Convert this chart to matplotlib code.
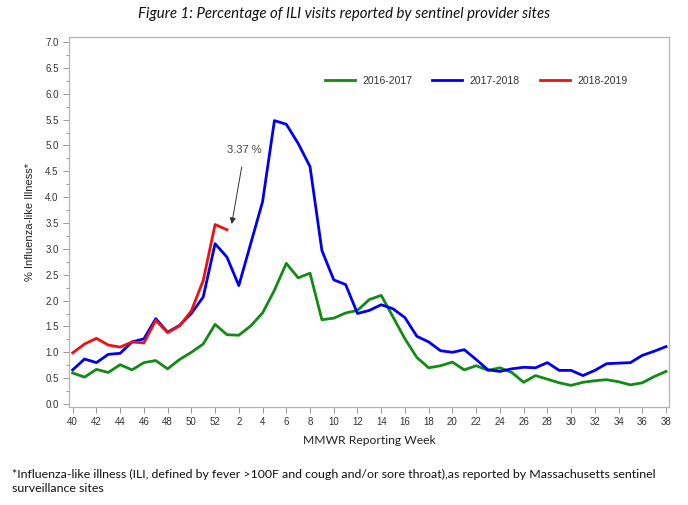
import matplotlib
matplotlib.use("Agg")
import matplotlib.pyplot as plt
import numpy as np

# MMWR weeks 40..52 then 1..38
weeks = list(range(40, 53)) + list(range(1, 39))
tick_labels = [str(w) for w in weeks]

ili_2016 = [0.60, 0.52, 0.67, 0.61, 0.76, 0.66, 0.80, 0.84, 0.68, 0.86,
            1.00, 1.16, 1.54, 1.34, 1.33, 1.51, 1.76, 2.20, 2.72, 2.44,
            2.53, 1.63, 1.66, 1.76, 1.81, 2.02, 2.10, 1.68, 1.26, 0.90,
            0.70, 0.74, 0.81, 0.66, 0.74, 0.65, 0.70, 0.61, 0.42, 0.55,
            0.48, 0.41, 0.36, 0.42, 0.45, 0.47, 0.43, 0.37, 0.41, 0.53,
            0.63]
ili_2017 = [0.66, 0.87, 0.80, 0.96, 0.98, 1.20, 1.26, 1.65, 1.39, 1.52,
            1.75, 2.07, 3.10, 2.84, 2.29, 3.10, 3.91, 5.48, 5.41, 5.04,
            4.59, 2.97, 2.40, 2.31, 1.75, 1.81, 1.92, 1.84, 1.67, 1.31,
            1.20, 1.03, 1.00, 1.05, 0.86, 0.66, 0.63, 0.68, 0.71, 0.70,
            0.80, 0.65, 0.65, 0.55, 0.65, 0.78, 0.79, 0.80, 0.94, 1.02,
            1.11]
ili_2018 = [0.99, 1.16, 1.27, 1.14, 1.10, 1.20, 1.18, 1.62, 1.38, 1.51,
            1.80, 2.39, 3.47, 3.37]

series = [("2016-2017", ili_2016, "#138a13"),
          ("2017-2018", ili_2017, "#0000f0"),
          ("2018-2019", ili_2018, "#f01010")]

W, H = 688, 505
fig = plt.figure(figsize=(W / 100, H / 100), dpi=100)
ax = fig.add_axes([69 / W, 1 - 407 / H, 600 / W, 370 / H])

for name, vals, col in series:
    ax.plot(np.arange(len(vals)), vals, color=col, lw=2.0, label=name,
            solid_joinstyle="round")

ax.set_xlim(-0.31, 50.25)
ax.set_ylim(-0.058, 7.097)
ax.set_xticks(np.arange(0, len(weeks), 2))
ax.set_xticklabels(tick_labels[::2])
ax.set_yticks(np.arange(0, 7.01, 0.5))
ax.set_yticklabels(["%.1f" % v for v in np.arange(0, 7.01, 0.5)])
ax.set_yticks(np.arange(0.25, 7.0, 0.5), minor=True)

for sp in ax.spines.values():
    sp.set_color("#b4b4b4")
    sp.set_linewidth(0.9)
ax.tick_params(which="both", colors="#9a9a9a", direction="out", length=4,
               width=0.7, labelcolor="#333333", labelsize=7,
               labelfontfamily="Liberation Sans")
ax.tick_params(which="minor", length=2.5)

ax.set_ylabel("% Influenza-like Illness*", fontsize=8, family="Liberation Sans",
              color="#222222", labelpad=7)

ax.legend(loc="center left", bbox_to_anchor=((325 - 69) / 600, (407 - 81) / 370),
          ncol=3, frameon=False, handlelength=2.9, handletextpad=0.7,
          columnspacing=1.9, prop={"family": "Liberation Sans", "size": 7.5},
          labelcolor="#333333", borderaxespad=0, borderpad=0)

ax.annotate("3.37 %", xy=(13.4, 3.48), xytext=(14.5, 4.92),
            ha="center", va="center", fontsize=8, color="#444444",
            family="Liberation Sans",
            arrowprops=dict(arrowstyle="-|>", color="#333333", lw=0.7,
                            shrinkA=7, shrinkB=0, mutation_scale=9))

fig.text(0.5, 1 - 14 / H, "Figure 1: Percentage of ILI visits reported by sentinel provider sites",
         ha="center", va="center", fontsize=10.8, style="italic", family="Lato",
         color="#111111")
fig.text((69 + 669) / 2 / W, 1 - 441 / H, "MMWR Reporting Week", ha="center",
         va="center", fontsize=8.7, family="Lato", color="#222222")
fig.text(12 / W, 1 - 469 / H,
         "*Influenza-like illness (ILI, defined by fever >100F and cough and/or sore throat),"
         "as reported by Massachusetts sentinel\nsurveillance sites",
         ha="left", va="top", fontsize=8.9, family="Lato", color="#111111",
         linespacing=1.3)

fig.savefig("out.png", dpi=100)
